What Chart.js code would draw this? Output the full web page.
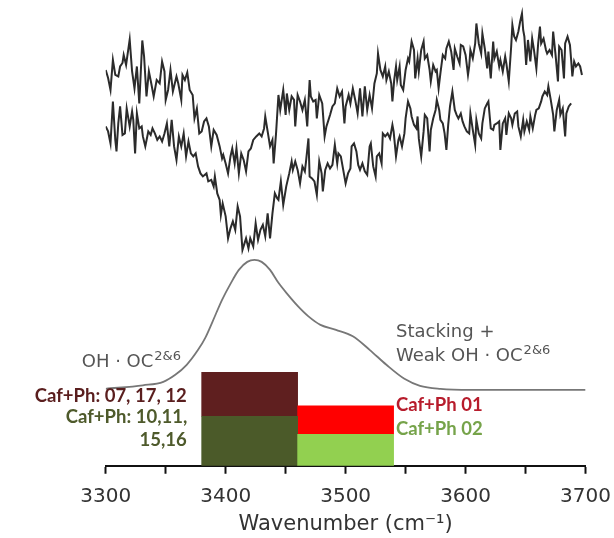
<!DOCTYPE html>
<html><head><meta charset="utf-8">
<script src="https://cdn.jsdelivr.net/npm/chart.js@4.4.1/dist/chart.umd.min.js"></script>
<style>html,body{margin:0;padding:0;background:#fff;} #wrap{width:614px;height:538px;}</style>
</head><body><div id="wrap"><canvas id="c" width="614" height="538"></canvas></div>
<script>
// ---------- data (wavenumber in cm-1, intensity in arbitrary units) ----------
const tickLabels = ['3300', '3400', '3500', '3600', '3700'];

// upper noisy spectrum
const topW = [3300,3302,3304,3306,3308,3310.5,3312,3314,3315,3317,3320,3322,3324,3326,3328,3330.5,3332,3334,3336,3338,3340,3342.5,3345,3347,3349,3350,3352,3354,3356,3359,3360.5,3363,3364,3366,3368,3370,3372.5,3374,3376,3378,3380,3382,3384,3386,3388,3390,3392.5,3395,3397,
3398,3400,3402,3404,3405.5,3407.5,3409,3411,3413,3415,3417,3419,3421,3423,3425.5,3428,3430,3432,3433,3435,3437,3439,3440,3442,3444,3445.5,3448,3450,3451,3453,3455,3457,3458,3460,3462,3464,3466,3468,3470,3471,3473,3475,3476,3478,3480.5,3482.5,3484,3487,3489,3491,3493,3495,3497,3499,3500,
3502.5,3504,3506,3508,3510,3512,3514,3516,3518,3520,3522,3524,3526,3527,3529,3531,3533,3534,3536,3538,3539,3540.5,3542,3543,3545,3546,3548,3550,3552,3553,3555,3557,3558,3560,3561,3563,3565,3566,3568,3570,3571,3573,3575,3576,3577.5,3579,3581,3583,3584,3586,3588,3590,3591,3593,3595,3596,3598,3600,3602,
3603,3604,3606,3608,3609,3611,3613,3614,3616,3618,3619,3621,3623,3624,3626,3628,3629,3631,3633,3634,3636,3638,3639,3640.5,3642,3644,3645.5,3647,3648,3649,3650.5,3652,3654,3655.5,3657,3659,3660.5,3662,3663,3665,3667,3668,3670,3672,3673,3675,3677,3678,3680,3682,3683,3685,3687,3688,3689,3690.5,3692,3694,3695.5,3697];
const topV = [79.2,77.6,75.2,81.2,78.2,77.9,79.9,80.6,82.2,80.2,85.3,78.9,75.5,79.9,72.5,85.1,81.9,73.9,78.9,76.5,73.9,77.2,76.5,80.9,78.9,73.2,75.2,79.2,74.9,77.9,76.5,73.2,78.2,77.2,78.7,75.2,74.2,69.5,71.5,66.5,66.9,68.9,69.5,67.9,63.9,67.2,66.2,63.9,61.5,
62.2,60.5,58.5,61.9,63.5,60.5,63.5,58.5,62.5,61.2,58.9,62.9,63.5,65.2,65.9,66.5,65.9,67.5,69.9,66.9,63.9,65.2,60.5,66.5,74.2,71.2,75.2,70.2,74.5,71.2,73.9,73.2,67.9,74.2,72.9,71.2,73.2,67.9,77.2,73.9,72.9,73.2,69.5,74.2,72.5,65.9,67.9,70.2,71.9,72.5,75.5,73.9,74.9,68.5,71.9,
74.2,72.5,75.5,73.2,70.5,75.5,69.9,75.9,71.2,74.2,71.5,76.5,78.5,82.5,79.2,77.9,79.9,77.2,78.9,76.5,72.9,77.2,79.9,77.2,79.9,76.2,75.2,79.2,81.5,80.9,84.9,83.2,77.5,81.5,78.9,83.2,84.9,81.5,82.2,79.2,76.9,80.2,78.9,79.2,75.5,78.5,82.2,81.5,83.5,84.9,82.9,79.2,83.5,81.9,80.5,84.2,83.9,82.2,78.2,
79.9,83.2,81.5,84.5,88.5,84.5,82.5,86.5,83.5,79.5,82.9,77.5,84.9,81.5,82.9,79.9,81.2,78.9,81.9,80.5,76.9,83.9,88.2,85.9,85.2,86.9,88.9,90.5,87.2,85.9,80.2,85.2,80.9,85.5,83.2,79.5,84.5,87.9,84.5,85.5,83.2,82.5,83.2,82.2,86.9,82.2,76.9,83.9,83.2,77.5,84.5,85.9,84.2,81.2,77.9,80.9,79.9,80.5,79.9,78.2];

// lower noisy spectrum
const lowW = [3300,3302,3304,3306,3308,3309,3310.5,3312,3314,3316,3317.5,3320,3322,3323,3324.5,3326,3328,3330,3331,3333,3335.5,3337.5,3339,3341,3343,3345,3347,3349,3351,3353,3355,3357,3359,3361,3363,3365,3367,3369,3371,3373,3375,3377,3379,3381,3384,3385.5,3388,3390,3391,3393,3395,3396,3397.5,
3400,3402,3404,3406,3408,3410,3412,3414,3417,3419,3420.5,3423,3425,3427,3429,3431,3433,3435,3437,3439,3441,3443,3444,3446,3448,3450.5,3453,3455,3456,3458,3460,3462,3464,3466,3467,3469,3470,3472,3474,3476,3478,3480,3481,3483,3485,3487,3489,3491,3493,3494,3496,3498,3500,
3502,3504,3505,3507,3509,3510.5,3512,3514,3516,3518,3520,3521,3523,3525,3526,3528,3530,3531,3533,3535,3537,3539,3540,3542,3544,3545,3547,3549,3550,3552,3554,3555,3557,3559,3560,3561,3563,3565,3566,3568,3570,3571,3573,3575,3576,3578,3579,3581,3582.5,3584,3585.5,3587,3589,3591,3592.5,3594,3596,3597.5,3599,3601,3603,
3604,3606,3608,3609,3611,3613,3614,3616,3618,3619,3621,3623,3624,3626,3628,3629,3631,3633,3634,3636,3638,3639,3641,3643,3644,3646,3648,3649,3651,3653,3654,3656,3658,3659,3661,3663,3664,3666,3668,3669,3671,3673,3674,3676,3678,3679,3681,3683,3684,3686,3688];
const lowV = [67.9,66.9,64.5,72.9,65.2,62.9,68.5,71.9,66.2,66.5,71.5,67.9,70.9,69.2,62.5,70.5,67.5,67.9,65.9,63.9,66.9,66.2,67.5,66.5,65.2,65.9,64.9,66.5,68.5,63.9,69.2,63.9,61.2,65.9,63.9,66.5,61.9,64.9,62.5,61.9,62.5,59.9,58.5,57.9,58.5,56.9,57.2,55.9,57.9,54.5,53.2,50.2,52.5,
49.9,45.5,47.5,48.9,47.2,51.9,49.9,43.2,45.5,43.5,45.5,43.9,48.5,45.2,47.2,48.2,45.9,50.5,45.5,50.5,54.5,53.5,53.2,56.9,52.2,55.9,58.5,60.9,59.2,60.9,59.2,56.5,59.9,58.9,60.9,65.5,57.9,57.5,56.9,54.2,60.9,58.5,54.9,59.2,60.5,59.5,60.2,64.2,60.5,62.5,61.9,59.2,56.5,
58.5,59.5,63.9,64.5,62.9,60.2,59.2,60.5,58.9,58.2,63.9,64.5,59.9,57.9,61.9,62.5,60.5,66.5,65.9,66.5,65.5,68.2,66.9,61.9,65.2,65.9,63.9,66.5,69.5,72.9,71.5,69.9,68.2,67.5,69.9,65.5,61.9,66.9,70.2,69.5,62.9,67.2,69.5,71.2,73.2,71.2,69.2,68.5,66.5,63.2,68.2,71.9,74.9,71.2,70.2,69.5,70.5,68.9,67.9,66.9,66.5,
70.5,67.2,64.2,69.2,66.5,65.5,68.5,71.5,72.5,72.9,67.5,67.2,68.2,68.5,68.9,63.2,68.5,69.5,66.2,70.5,69.5,68.2,70.5,70.9,67.9,65.9,69.2,66.9,68.9,67.2,69.9,67.5,70.2,71.2,71.5,72.9,73.9,74.9,74.2,75.9,73.2,70.2,66.9,71.2,73.2,70.2,71.5,65.9,70.5,71.9,72.5];

// smooth band profile
const bandW = [3300,3331,3348,3358,3367.5,3377,3383,3389,3397,3404,3411,3418,3424,3430,3437,3444,3452,3460,3469,3479,3492,3506,3520,3534,3549,3562,3579,3604,3700];
const bandV = [15.4,16.1,16.8,18.2,20.2,23.2,25.6,28.8,33.2,36.4,39.2,40.8,41.2,40.8,39.2,36.6,34.2,32.0,29.9,28.2,27.2,25.9,23.2,20.2,17.4,16.0,15.4,15.2,15.2];

// bars (centre wavenumber, stacked levels)
const barCenters = [3420, 3500];
const lowerTops = [9.9, 6.3];
const upperTops = [18.7, 12.0];
const lowerColors = ['#4b5a29', '#92d050'];
const upperColors = ['#5f1f1f', '#ff0000'];

// annotation texts
const leftLabels = ['Caf+Ph: 07, 17, 12', 'Caf+Ph: 10,11,', '15,16'];
const rightLabels = ['Caf+Ph 01', 'Caf+Ph 02'];

// ---------- build ----------
const pts = (ws, vs) => ws.map((w, i) => ({ x: w, y: vs[i] }));

const notes = {
  id: 'notes',
  afterDatasetsDraw(chart) {
    const { ctx } = chart;
    const X = v => chart.scales.x.getPixelForValue(v);
    const Y = v => chart.scales.y.getPixelForValue(v);
    ctx.save();
    ctx.textBaseline = 'alphabetic';
    const supLabel = (text, sup, wx, wy) => {
      ctx.textAlign = 'left';
      ctx.fillStyle = '#555';
      ctx.font = '18px "DejaVu Sans"';
      const px = X(wx), py = Y(wy);
      ctx.fillText(text, px, py);
      const w = ctx.measureText(text).width;
      ctx.font = '13px "DejaVu Sans"';
      ctx.fillText(sup, px + w + 1, py - 7);
    };
    supLabel('OH · OC', '2&6', 3280, 19.8);
    ctx.fillStyle = '#555';
    ctx.font = '18px "DejaVu Sans"';
    ctx.fillText('Stacking +', X(3542), Y(25.8));
    supLabel('Weak OH · OC', '2&6', 3542, 21.0);

    ctx.font = 'bold 18.5px Lato, "DejaVu Sans"';
    ctx.textAlign = 'right';
    ctx.fillStyle = '#5a1e1e';
    ctx.fillText(leftLabels[0], X(3367.5), Y(12.8));
    ctx.fillStyle = '#4e5a2b';
    ctx.fillText(leftLabels[1], X(3368), Y(8.6));
    ctx.fillText(leftLabels[2], X(3367.5), Y(4.0));

    ctx.textAlign = 'left';
    ctx.fillStyle = '#b71c2c';
    ctx.fillText(rightLabels[0], X(3542), Y(11.0));
    ctx.fillStyle = '#76a34a';
    ctx.fillText(rightLabels[1], X(3542), Y(6.2));
    ctx.restore();
  }
};

Chart.defaults.font.family = '"DejaVu Sans"';

new Chart(document.getElementById('c'), {
  type: 'bar',
  data: {
    datasets: [
      { type: 'bar', label: 'lower', xAxisID: 'xb', data: barCenters.map((c, i) => ({ x: c, y: [0, lowerTops[i]] })),
        backgroundColor: lowerColors, borderWidth: 0, grouped: false, barPercentage: 1, categoryPercentage: 1, order: 3 },
      { type: 'bar', label: 'upper', xAxisID: 'xb', data: barCenters.map((c, i) => ({ x: c, y: [lowerTops[i], upperTops[i]] })),
        backgroundColor: upperColors, borderWidth: 0, grouped: false, barPercentage: 1, categoryPercentage: 1, order: 3 },
      { type: 'line', label: 'band', data: pts(bandW, bandV), borderColor: '#777', borderWidth: 1.8,
        pointRadius: 0, cubicInterpolationMode: 'monotone', fill: false, order: 2 },
      { type: 'line', label: 'spectrum A', data: pts(topW, topV), borderColor: '#2b2b2b', borderWidth: 2,
        pointRadius: 0, tension: 0, fill: false, order: 1 },
      { type: 'line', label: 'spectrum B', data: pts(lowW, lowV), borderColor: '#2b2b2b', borderWidth: 2,
        pointRadius: 0, tension: 0, fill: false, order: 1 }
    ]
  },
  options: {
    responsive: false,
    animation: false,
    devicePixelRatio: 1,
    layout: { padding: { left: 105.7, right: 28.3, top: 0, bottom: 0 } },
    plugins: { legend: { display: false }, tooltip: { enabled: false } },
    scales: {
      x: {
        type: 'linear', position: 'bottom', min: 3300, max: 3700, offset: false,
        ticks: { stepSize: 50, autoSkip: false, maxRotation: 0, padding: 3, color: '#333',
          font: { size: 20, lineHeight: 2 },
          callback: v => (tickLabels.includes(String(v)) ? String(v) : '') },
        grid: { display: true, drawOnChartArea: false, drawTicks: true, tickLength: 8, tickColor: '#111', tickWidth: 2, offset: false },
        border: { display: true, color: '#111', width: 2 },
        title: { display: true, text: 'Wavenumber (cm⁻¹)', color: '#333', font: { size: 21, lineHeight: 0.5 }, padding: { top: 0, bottom: 7.75 } }
      },
      xb: {
        type: 'linear', display: false, min: 3300, max: 3700, offset: false,
        ticks: { stepSize: 400 }, grid: { offset: false }
      },
      y: { type: 'linear', display: false, min: 0, max: 93.2 }
    }
  },
  plugins: [notes]
});
</script>
</body></html>
